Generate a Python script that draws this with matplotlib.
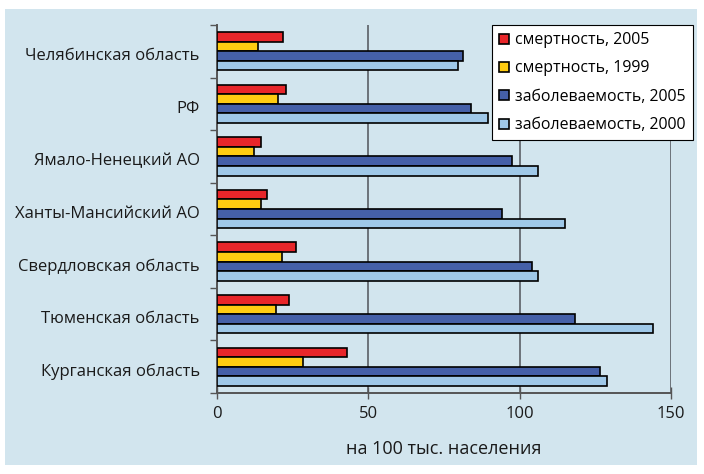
import numpy as np
import matplotlib.pyplot as plt
from matplotlib.patches import Rectangle

plt.rcParams['font.family'] = ['Open Sans', 'DejaVu Sans']

# регионы сверху вниз
regions = ['Челябинская область', 'РФ', 'Ямало-Ненецкий АО', 'Ханты-Мансийский АО',
           'Свердловская область', 'Тюменская область', 'Курганская область']

# значения на 100 тыс. населения
mort_2005 = [21.7, 22.7, 14.7, 16.4, 26.0, 23.9, 42.8]
mort_1999 = [13.6, 20.0, 12.1, 14.6, 21.6, 19.5, 28.5]
morb_2005 = [81.3, 84.0, 97.6, 94.0, 104.0, 118.3, 126.6]
morb_2000 = [79.7, 89.7, 106.0, 115.0, 106.0, 144.0, 128.8]

series = [
    ('смертность, 2005', mort_2005, '#e8262a'),
    ('смертность, 1999', mort_1999, '#ffcc11'),
    ('заболеваемость, 2005', morb_2005, '#4560a8'),
    ('заболеваемость, 2000', morb_2000, '#9fc8e8'),
]

bg = '#d2e5ee'
fig = plt.figure(figsize=(7.04, 4.74), dpi=100, facecolor='white')
# голубая подложка
fig.patches.append(Rectangle((5 / 704, 1 - 465 / 474), 692 / 704, 456 / 474,
                             transform=fig.transFigure, facecolor=bg,
                             edgecolor='none', zorder=-10))

ax = fig.add_axes([217 / 704, 1 - 393 / 474, 454 / 704, 368 / 474])
ax.set_facecolor(bg)

n = len(regions)
y = np.arange(n)
h = 0.182
for i, (lab, vals, col) in enumerate(series):
    ax.barh(y + (i - 1.5) * h, vals, height=h, color=col, edgecolor='black',
            linewidth=1.2, label=lab, zorder=3)

ax.set_xlim(0, 150)
ax.set_ylim(n - 0.5, -0.5)
ax.set_xticks([0, 50, 100, 150])
ax.tick_params(axis='x', direction='inout', length=8, width=1, colors='#555555',
               labelcolor='#1a1a1a', labelsize=12, pad=5)
ax.set_yticks(y + 0.06)
ax.set_yticklabels(regions, color='#1a1a1a')
ax.set_yticks(np.arange(-0.5, n, 1), minor=True)
ax.tick_params(axis='y', which='major', length=0, labelsize=12, pad=12.5)
ax.tick_params(axis='y', which='minor', length=5, width=1, color='#555555')

ax.grid(axis='x', color='#5a5f66', linewidth=1.2, zorder=1)
for s in ['top', 'right']:
    ax.spines[s].set_visible(False)
for s in ['left', 'bottom']:
    ax.spines[s].set_color('#555555')
    ax.spines[s].set_linewidth(1.4)

ax.set_xlabel('на 100 тыс. населения', fontsize=13, labelpad=13, color='#1a1a1a')

leg = ax.legend(loc='upper right', bbox_to_anchor=(693 / 704, 1 - 25 / 474),
                bbox_transform=fig.transFigure, fontsize=11.4, frameon=True,
                fancybox=False, edgecolor='black', facecolor='white', framealpha=1,
                handlelength=0.6, handleheight=0.6, handletextpad=0.4,
                labelspacing=0.78, borderpad=0.45, borderaxespad=0)
leg.get_frame().set_linewidth(0.8)
leg.set_zorder(5)

fig.savefig('out.png', dpi=100, facecolor=fig.get_facecolor())
